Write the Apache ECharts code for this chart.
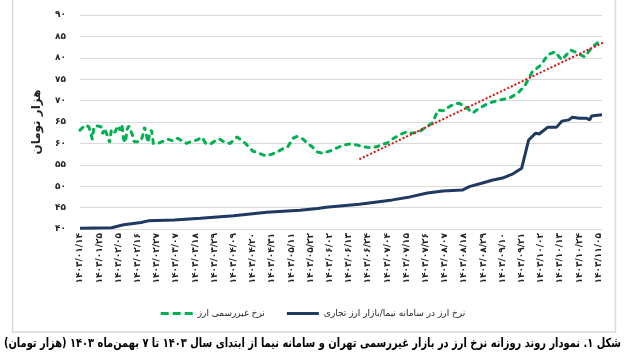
<!DOCTYPE html>
<html>
<head>
<meta charset="utf-8">
<script src="https://cdn.jsdelivr.net/npm/echarts@6/dist/echarts.min.js"></script>
<style>
html,body{margin:0;padding:0;background:#fff;}
#chart{width:626px;height:358px;direction:rtl;}
</style>
</head>
<body>
<div id="chart" dir="rtl"></div>
<script>
// x tick labels (every 11 days starting 1403/01/14 = day 0)
const tickLabels = ['۱۴۰۳/۰۱/۱۴','۱۴۰۳/۰۱/۲۵','۱۴۰۳/۰۲/۰۵','۱۴۰۳/۰۲/۱۶','۱۴۰۳/۰۲/۲۷','۱۴۰۳/۰۳/۰۷','۱۴۰۳/۰۳/۱۸','۱۴۰۳/۰۳/۲۹','۱۴۰۳/۰۴/۰۹','۱۴۰۳/۰۴/۲۰','۱۴۰۳/۰۴/۳۱','۱۴۰۳/۰۵/۱۱','۱۴۰۳/۰۵/۲۲','۱۴۰۳/۰۶/۰۲','۱۴۰۳/۰۶/۱۳','۱۴۰۳/۰۶/۲۴','۱۴۰۳/۰۷/۰۴','۱۴۰۳/۰۷/۱۵','۱۴۰۳/۰۷/۲۶','۱۴۰۳/۰۸/۰۷','۱۴۰۳/۰۸/۱۸','۱۴۰۳/۰۸/۲۹','۱۴۰۳/۰۹/۱۰','۱۴۰۳/۰۹/۲۱','۱۴۰۳/۱۰/۰۲','۱۴۰۳/۱۰/۱۳','۱۴۰۳/۱۰/۲۴','۱۴۰۳/۱۱/۰۵'];
const yTickLabels = ['۴۰','۴۵','۵۰','۵۵','۶۰','۶۵','۷۰','۷۵','۸۰','۸۵','۹۰'];

const seriesNames = ['نرخ غیررسمی ارز','نرخ ارز در سامانه نیما/بازار ارز تجاری'];

// unofficial market rate (day index, thousand toman)
const greenDays = [0,3,5,6,7,8,10,12,13,14,16,17,18,20,21,22,23,24,25,26,27,28,29,30,31,32,33,34,35,36,37,38,39,40,41,42,43,44,47,50,53,56,59,61,64,67,70,72,75,78,80,83,86,88,90,93,95,97,99,102,105,107,110,113,116,119,122,124,126,128,130,133,136,139,143,147,151,155,159,162,166,170,173,176,179,183,187,190,194,198,202,205,208,212,215,217,221,225,229,234,240,246,251,255,259,264,268,272,276,281,285,289,293,297,299];
const greenValues = [63.1,64.3,63.9,62.6,61.0,63.9,64.1,63.9,62.2,63.5,61.5,60.2,63.3,62.6,63.5,64.1,63.0,64.3,61.0,60.2,63.3,64.1,64.5,62.0,60.4,60.0,60.4,60.0,60.6,62.0,63.8,63.4,60.2,62.6,63.1,60.0,60.2,59.9,60.4,61.0,60.6,61.2,60.4,60.0,60.5,60.8,61.4,60.0,59.9,60.8,61.0,60.2,60.0,60.8,61.5,60.6,59.9,59.0,58.2,57.8,57.3,57.1,57.5,58.0,58.7,59.2,61.2,61.6,61.5,60.9,60.1,59.2,58.0,57.7,58.2,58.9,59.6,59.9,59.6,59.2,59.0,59.2,59.8,60.1,61.0,62.0,62.7,62.4,62.6,63.8,64.8,67.8,67.6,68.7,69.2,69.4,68.5,67.1,68.3,69.4,70.1,70.6,71.8,73.6,76.7,78.3,80.7,81.4,79.5,81.8,81.1,80.2,82.3,83.7,84.0];

// NIMA / commercial FX market rate
const navyDays = [0,18,25,35,39,54,69,88,107,126,136,141,160,179,189,199,208,219,223,230,236,242,248,253,254,257,261,263,268,273,276,280,282,286,290,292,293,299];
const navyValues = [40.2,40.3,41.0,41.5,41.9,42.1,42.5,43.1,43.9,44.4,44.8,45.1,45.8,46.8,47.5,48.4,48.9,49.1,49.9,50.7,51.4,51.9,52.9,54.2,54.5,60.8,62.4,62.2,63.8,63.8,65.2,65.5,66.1,65.9,65.9,65.5,66.4,66.7];

// linear trend of unofficial rate
const trendDays = [160,305];
const trendValues = [56.3,84.6];

const caption = 'شکل ۱. نمودار روند روزانه نرخ ارز در بازار غیررسمی تهران و سامانه نیما از ابتدای سال ۱۴۰۳ تا ۷ بهمن‌ماه ۱۴۰۳ (هزار تومان)';

const zip = (a,b) => a.map((d,i)=>[d,b[i]]);

const GREEN = '#00b050', NAVY = '#1f3a60', RED = '#e01010';

const chart = echarts.init(document.getElementById('chart'), null, {renderer:'canvas'});
chart.setOption({
  animation:false,
  textStyle:{fontFamily:'DejaVu Sans'},
  graphic:[
    {
      type:'rect', silent:true, z:-10,
      shape:{x:12.5,y:-2,width:603,height:334},
      style:{fill:'none',stroke:'#d9d9d9',lineWidth:1.5}
    },
    {
      type:'text', silent:true,
      x:621, y:344, scaleX:0.79, scaleY:1,
      style:{
        text:caption, textAlign:'right', textVerticalAlign:'middle',
        font:'bold 12.5px "DejaVu Sans"', fill:'#000'
      }
    }
  ],
  legend:{
    left:'center', top:304, itemGap:22, itemWidth:32, itemHeight:3,
    textStyle:{fontSize:9,color:'#222'},
    data:[
      {name:seriesNames[0], icon:'path://M0,0h8v3h-8z M12,0h8v3h-8z M24,0h8v3h-8z'},
      {name:seriesNames[1], icon:'path://M0,0h32v3h-32z'}
    ]
  },
  grid:{left:80,right:24,top:15,bottom:129},
  xAxis:{
    type:'value', min:0, max:299, interval:11,
    splitLine:{show:false},
    axisLine:{show:true,lineStyle:{color:'#d9d9d9',width:1}},
    axisTick:{show:false},
    axisLabel:{
      rotate:90, fontSize:9, fontWeight:'bold', color:'#222', margin:4,
      showMaxLabel:false,
      formatter:v => (v % 11 === 0 && tickLabels[v/11]) ? tickLabels[v/11] : ''
    }
  },
  yAxis:{
    type:'value', min:40, max:90, interval:5,
    name:'هزار تومان', nameLocation:'middle', nameRotate:90, nameGap:37,
    nameTextStyle:{fontWeight:'bold',fontSize:12,color:'#222'},
    axisLine:{show:false}, axisTick:{show:false},
    splitLine:{lineStyle:{color:'#d9d9d9',width:1}},
    axisLabel:{margin:14,fontSize:9,color:'#222',fontWeight:'bold',
      formatter:v => yTickLabels[Math.round((v-40)/5)]}
  },
  series:[
    {
      name:seriesNames[0], type:'line', data:zip(greenDays,greenValues),
      symbol:'none', z:3,
      lineStyle:{color:GREEN,width:3,type:[4,6],cap:'round'},
      itemStyle:{color:GREEN}
    },
    {
      name:seriesNames[1], type:'line', data:zip(navyDays,navyValues),
      symbol:'none', z:2,
      lineStyle:{color:NAVY,width:3},
      itemStyle:{color:NAVY}
    },
    {
      name:'trend', type:'line', data:zip(trendDays,trendValues),
      symbol:'none', clip:false, z:4,
      lineStyle:{color:RED,width:2,type:[2,2]},
      itemStyle:{color:RED}
    }
  ]
});
</script>
</body>
</html>
